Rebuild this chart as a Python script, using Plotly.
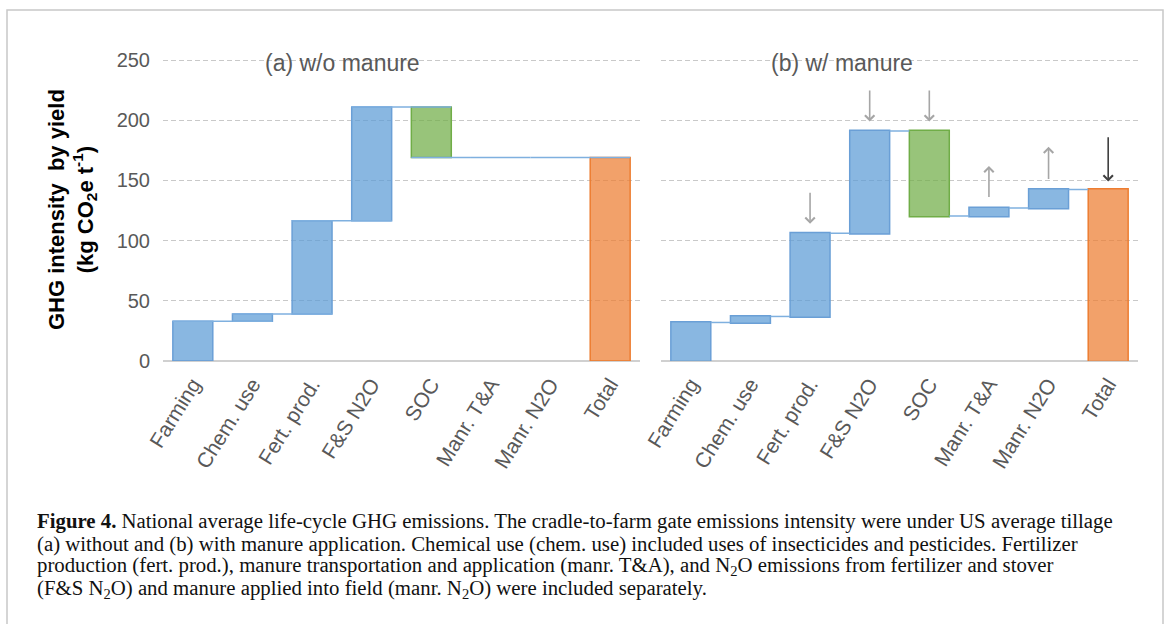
import plotly.graph_objects as go

W, H = 1170, 624

categories = ["Farming", "Chem. use", "Fert. prod.", "F&S N2O", "SOC", "Manr. T&A", "Manr. N2O", "Total"]
measures = ["relative"] * 7 + ["total"]

# incremental contributions (kg CO2e t-1)
vals_a = [33, 6, 77.5, 94.5, -42, 0, 0, 0]
vals_b = [32, 5, 69, 85, -70.5, 6.5, 15.5, 0]

# arrows in panel (b): category, tail value, head value, colour
arrow_cats = ["Fert. prod.", "F&S N2O", "SOC", "Manr. T&A", "Manr. N2O", "Total"]
arrow_tail = [141, 226, 226, 135, 150, 187]
arrow_head = [114, 199, 199, 162, 178, 149]
arrow_cols = ["#a6a6a6", "#a6a6a6", "#a6a6a6", "#a6a6a6", "#a6a6a6", "#404040"]

panel_titles = ["(a) w/o manure", "(b) w/ manure"]
y_ticks = [0, 50, 100, 150, 200, 250]

caption_lines = [
    "<b>Figure 4.</b> National average life-cycle GHG emissions. The cradle-to-farm gate emissions intensity were under US average tillage",
    "(a) without and (b) with manure application. Chemical use (chem. use) included uses of insecticides and pesticides. Fertilizer",
    "production (fert. prod.), manure transportation and application (manr. T&amp;A), and N<sub>2</sub>O emissions from fertilizer and stover",
    "(F&amp;S N<sub>2</sub>O) and manure applied into field (manr. N<sub>2</sub>O) were included separately.",
]

BLUE_L, BLUE_F = "#6a9fd6", "rgba(91,155,213,0.72)"
GREEN_L, GREEN_F = "#70ad47", "rgba(112,173,71,0.72)"
ORANGE_L, ORANGE_F = "#ed7d31", "rgba(237,125,49,0.72)"
GRAY = "#595959"
SANS = "Liberation Sans, Arial, sans-serif"


def px_x(p):
    return p / W


def px_y(p):
    return 1 - p / H


def wf(vals, xa, ya, cmode):
    return go.Waterfall(
        x=categories, y=vals, measure=measures, xaxis=xa, yaxis=ya,
        width=0.67, showlegend=False, hoverinfo="x+y",
        increasing=dict(marker=dict(color=BLUE_F, line=dict(color=BLUE_L, width=1.5))),
        decreasing=dict(marker=dict(color=GREEN_F, line=dict(color=GREEN_L, width=1.5))),
        totals=dict(marker=dict(color=ORANGE_F, line=dict(color=ORANGE_L, width=1.5))),
        connector=dict(mode=cmode, line=dict(color="#7fb0df", width=1.5)),
    )


fig = go.Figure()
fig.add_trace(wf(vals_a, "x", "y", "spanning"))
fig.add_trace(wf(vals_b, "x2", "y2", "between"))

ymax = 262
y_dom = [px_y(361), px_y(361 - ymax * 1.204)]

xcommon = dict(type="category", categoryorder="array", categoryarray=categories,
               range=[-0.5, 7.5], showgrid=False, showline=False, zeroline=False,
               ticks="", tickangle=-58, automargin=False, ticklabelstandoff=6,
               tickfont=dict(family=SANS, size=21, color=GRAY))
ycommon = dict(range=[0, ymax], tickvals=y_ticks, showgrid=True, gridcolor="#c9c9c9",
               griddash="5px,3px", gridwidth=1, zeroline=True, zerolinecolor="#d0d0d0",
               zerolinewidth=1.5, showline=False, ticks="", automargin=False,
               tickfont=dict(family=SANS, size=20, color=GRAY))

fig.update_layout(
    width=W, height=H, autosize=False,
    margin=dict(l=0, r=0, t=0, b=0, pad=0, autoexpand=False),
    paper_bgcolor="white", plot_bgcolor="white",
    xaxis=dict(domain=[px_x(163), px_x(640)], anchor="y", **xcommon),
    xaxis2=dict(domain=[px_x(661), px_x(1138)], anchor="y2", **xcommon),
    yaxis=dict(domain=y_dom, anchor="x", ticklabelstandoff=12, **ycommon),
    yaxis2=dict(domain=y_dom, anchor="x2", showticklabels=False, **ycommon),
)

ann = []
# panel titles
for t, cx in zip(panel_titles, [342, 842]):
    ann.append(dict(text=t, x=px_x(cx), y=px_y(63), xref="paper", yref="paper",
                    xanchor="center", yanchor="middle", showarrow=False,
                    font=dict(family=SANS, size=23, color=GRAY)))
# y title
ann.append(dict(text="<b>GHG intensity  by yield</b><br><b>(kg CO<sub>2</sub>e t<sup>-1</sup>)</b>",
                x=px_x(72), y=px_y(210), xref="paper", yref="paper",
                xanchor="center", yanchor="middle", textangle=-90, showarrow=False,
                font=dict(family=SANS, size=22, color="#000000"), align="center"))
# arrows
for c, t, h, col in zip(arrow_cats, arrow_tail, arrow_head, arrow_cols):
    i = categories.index(c)
    ann.append(dict(x=i, y=h, ax=i, ay=t, xref="x2", yref="y2", axref="x2", ayref="y2",
                    text="", showarrow=True, arrowhead=4, arrowsize=1.15, arrowwidth=1.6,
                    arrowcolor=col))
# caption
for k, line in enumerate(caption_lines):
    ann.append(dict(text=line, x=px_x(35), y=px_y(521 + 22.7 * k), xref="paper", yref="paper",
                    xanchor="left", yanchor="middle", showarrow=False, align="left",
                    font=dict(family="Liberation Serif, Times New Roman, serif", size=20.8,
                              color="#111111")))
fig.update_layout(annotations=ann)

# outer frame
fig.add_shape(type="rect", xref="paper", yref="paper",
              x0=px_x(7), x1=px_x(1163), y0=px_y(640), y1=px_y(10),
              line=dict(color="#c8c8c8", width=1.5), fillcolor="rgba(0,0,0,0)", layer="below")

fig.write_html("out.html", config={"displayModeBar": False},
               post_script="document.body.style.margin='0';document.body.style.overflow='hidden';")
